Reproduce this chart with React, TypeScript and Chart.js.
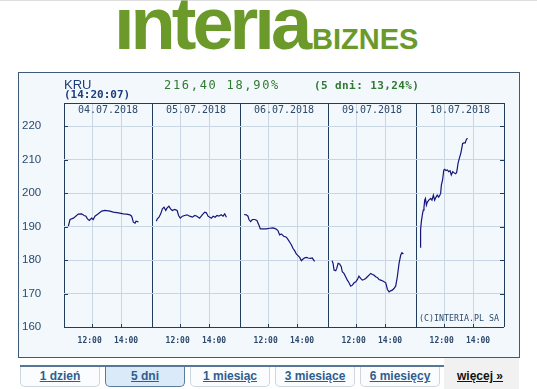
import React, { useEffect, useRef } from "react";
import { Chart, registerables } from "chart.js";

Chart.register(...registerables);

// ---- data ----
const TICKER = "KRU";
const QUOTE_TIME = "(14:20:07)";
const LAST_QUOTE = "216,40 18,90%";
const FIVE_DAY_CHANGE = "(5 dni: 13,24%)";
const COPYRIGHT = "(C)INTERIA.PL SA";
const DATES = ["04.07.2018", "05.07.2018", "06.07.2018", "09.07.2018", "10.07.2018"];
const Y_TICKS = [160, 170, 180, 190, 200, 210, 220];
const GRID_HOURS = [12, 14];
const X_TICK_LABELS = ["12:00", "14:00"];
const TABS = ["1 dzień", "5 dni", "1 miesiąc", "3 miesiące", "6 miesięcy"];
const ACTIVE_TAB = 1;
const MORE_LINK = "więcej »";

const DAY1_TIMES = ["10:21","10:28","10:42","11:02","11:16","11:26","11:34","11:40","11:48","11:57","12:04","12:11","12:25","12:39","12:53","13:13","13:27","13:48","14:09","14:22","14:36","14:43","14:50","14:57","15:01","15:11"];
const DAY1_VALUES = [190.1,192.1,192.5,193.7,193.8,193.3,193.1,192.3,191.8,192.5,192.1,193.1,193.8,194.6,194.8,194.6,194.3,194.1,193.8,193.7,193.5,193.1,191.3,191.0,191.6,191.4];

const DAY2_TIMES = ["10:21","10:25","10:32","10:39","10:46","10:53","11:00","11:05","11:13","11:20","11:27","11:37","11:47","11:53","12:00","12:09","12:18","12:28","12:39","12:50","13:00","13:09","13:20","13:31","13:41","13:48","13:55","14:02","14:09","14:16","14:24","14:32","14:40","14:49","14:57","15:04","15:11"];
const DAY2_VALUES = [191.6,192.3,192.8,193.8,195.3,195.8,194.8,195.5,196.1,195.3,194.8,195.1,194.8,193.3,192.5,193.1,193.3,193.5,193.1,192.8,193.3,193.1,192.5,193.5,194.3,194.1,193.1,192.8,192.5,193.1,192.8,193.3,193.1,193.5,193.1,193.8,192.8];

const DAY3_TIMES = ["10:20","10:29","10:36","10:40","10:47","10:54","11:04","11:13","11:22","11:27","11:38","11:52","12:06","12:20","12:31","12:40","12:47","12:54","13:04","13:15","13:22","13:29","13:36","13:42","13:49","13:56","14:03","14:10","14:17","14:24","14:31","14:38","14:45","14:54","15:02","15:08","15:12"];
const DAY3_VALUES = [193.6,193.5,193.1,192.1,191.5,192.1,192.1,191.8,190.3,189.3,189.3,189.3,189.5,189.6,189.3,188.8,187.5,187.8,187.1,186.8,186.1,185.3,184.5,183.5,182.8,181.8,181.3,180.8,179.8,180.3,180.7,180.8,180.6,180.5,180.6,180.0,179.6];

const DAY4_TIMES = ["10:20","10:24","10:28","10:35","10:39","10:45","10:51","10:58","11:02","11:09","11:16","11:23","11:30","11:37","11:44","11:51","11:58","12:05","12:11","12:18","12:25","12:32","12:39","12:46","12:53","13:00","13:07","13:13","13:20","13:27","13:34","13:41","13:48","13:55","14:02","14:09","14:16","14:22","14:29","14:36","14:43","14:50","14:57","15:04","15:09","15:15"];
const DAY4_VALUES = [179.8,179.0,177.0,176.8,177.5,179.0,178.8,178.0,176.5,176.0,175.0,174.0,173.2,172.2,172.5,173.2,173.5,174.2,175.2,174.5,174.0,174.2,174.5,175.0,175.5,176.0,175.7,175.5,175.0,174.8,174.2,174.0,173.8,173.5,173.2,171.2,170.5,170.8,171.0,171.5,172.2,175.0,179.0,181.5,182.2,181.8];

const DAY5_TIMES = ["10:21","10:22","10:25","10:29","10:33","10:36","10:39","10:42","10:46","10:50","10:56","11:04","11:09","11:15","11:20","11:26","11:31","11:37","11:42","11:45","11:48","11:53","11:58","12:02","12:07","12:13","12:18","12:24","12:29","12:35","12:40","12:46","12:51","12:54","12:57","13:02","13:08","13:11","13:16","13:22","13:27","13:30","13:36"];
const DAY5_VALUES = [183.8,189.0,191.4,193.4,194.9,195.7,197.9,198.4,196.4,197.3,197.9,198.4,197.9,199.4,197.9,198.8,199.4,198.8,199.4,199.9,202.4,203.9,206.9,207.1,206.7,206.9,206.4,206.7,205.4,206.4,206.1,205.8,206.1,207.4,208.9,210.3,211.8,212.8,214.8,215.0,215.0,215.8,216.4];

// ---- axis layout (hours) ----
const OPEN_H = 10.05;
const SPAN_H = 6.07;
const LABEL_OFFSETS = [1.77, 4.28];
const Y_MIN = 160;
const Y_MAX = 226.9;

const DARK = "#213d5e";
const LIGHT = "#c9d6e4";
const LABEL = "#2c4a6c";
const LINE = "#15157a";
const GREEN = "#6b9a2b";
const PANEL_BG = "#f3f8fd";

const toHours = (t: string) => {
  const [h, m] = t.split(":").map(Number);
  return h + m / 60;
};

const DAYS = [
  [DAY1_TIMES, DAY1_VALUES],
  [DAY2_TIMES, DAY2_VALUES],
  [DAY3_TIMES, DAY3_VALUES],
  [DAY4_TIMES, DAY4_VALUES],
  [DAY5_TIMES, DAY5_VALUES],
] as [string[], number[]][];

const isBoundary = (v: number) => Math.abs(v / SPAN_H - Math.round(v / SPAN_H)) < 1e-6;

const overlay = {
  id: "overlay",
  afterDraw(chart: any) {
    const { ctx, chartArea: a, scales } = chart;
    ctx.save();
    ctx.strokeStyle = DARK;
    ctx.lineWidth = 1;
    ctx.beginPath();
    Y_TICKS.forEach((v) => {
      if (v === Y_MIN) return;
      const y = Math.round(scales.y.getPixelForValue(v)) + 0.5;
      ctx.moveTo(a.left, y);
      ctx.lineTo(a.left + 4, y);
      ctx.moveTo(a.right - 4, y);
      ctx.lineTo(a.right, y);
    });
    DATES.forEach((_, d) => {
      GRID_HOURS.forEach((h) => {
        const x = Math.round(scales.x.getPixelForValue(d * SPAN_H + h - OPEN_H)) + 0.5;
        ctx.moveTo(x, a.bottom);
        ctx.lineTo(x, a.bottom - 3);
      });
    });
    ctx.stroke();
    ctx.fillStyle = LABEL;
    ctx.font = '10px "DejaVu Sans Mono"';
    ctx.textAlign = "center";
    ctx.textBaseline = "middle";
    DATES.forEach((d, i) => {
      ctx.fillText(d, scales.x.getPixelForValue(i * SPAN_H + SPAN_H / 2), a.top + 7);
    });
    ctx.font = '8.3px "DejaVu Sans Mono"';
    ctx.textAlign = "right";
    ctx.fillText(COPYRIGHT, a.right - 5, a.bottom - 8);
    ctx.restore();
  },
};

function PriceChart() {
  const ref = useRef<HTMLCanvasElement | null>(null);
  useEffect(() => {
    if (!ref.current) return;
    const gridValues: number[] = [];
    DATES.forEach((_, d) => {
      gridValues.push(d * SPAN_H);
      GRID_HOURS.forEach((h) => gridValues.push(d * SPAN_H + h - OPEN_H));
    });
    gridValues.push(DATES.length * SPAN_H);
    const labelValues: number[] = [];
    DATES.forEach((_, d) => LABEL_OFFSETS.forEach((o) => labelValues.push(d * SPAN_H + o)));

    const chart = new Chart(ref.current, {
      type: "line",
      data: {
        datasets: DAYS.map(([times, values], d) => ({
          data: times.map((t, j) => ({ x: d * SPAN_H + toHours(t) - OPEN_H, y: values[j] })),
          borderColor: LINE,
          borderWidth: 1.2,
          pointRadius: 0,
          fill: false,
          tension: 0,
        })),
      },
      options: {
        animation: false,
        responsive: false,
        events: [],
        layout: { padding: { left: 3, top: 30, right: 15, bottom: 0 } },
        plugins: { legend: { display: false }, tooltip: { enabled: false } },
        scales: {
          x: {
            type: "linear",
            position: "bottom",
            min: 0,
            max: DATES.length * SPAN_H,
            afterBuildTicks: (s: any) => {
              s.ticks = gridValues.map((v) => ({ value: v }));
            },
            afterFit: (s: any) => {
              s.height = 0;
            },
            grid: {
              color: (c: any) => (isBoundary(c.tick.value) ? DARK : LIGHT),
              drawTicks: false,
              lineWidth: 1,
            },
            border: { display: false },
            ticks: { display: false },
          },
          xl: {
            type: "linear",
            position: "bottom",
            min: 0,
            max: DATES.length * SPAN_H,
            afterBuildTicks: (s: any) => {
              s.ticks = labelValues.map((v) => ({ value: v }));
            },
            afterFit: (s: any) => {
              s.height = 30;
            },
            grid: { display: false },
            border: { display: false },
            ticks: {
              autoSkip: false,
              maxRotation: 0,
              padding: 1,
              color: LABEL,
              font: { family: "DejaVu Sans Mono", size: 8, weight: "bold" },
              callback: (_v: any, i: number) => X_TICK_LABELS[i % X_TICK_LABELS.length],
            },
          },
          y: {
            type: "linear",
            min: Y_MIN,
            max: Y_MAX,
            afterBuildTicks: (s: any) => {
              s.ticks = [...Y_TICKS, Y_MAX].map((v) => ({ value: v }));
            },
            afterFit: (s: any) => {
              s.width = 42;
            },
            grid: {
              color: (c: any) =>
                c.tick && (c.tick.value === Y_MIN || c.tick.value === Y_MAX) ? DARK : LIGHT,
              drawTicks: false,
              lineWidth: 1,
            },
            border: { display: false },
            ticks: {
              crossAlign: "far",
              padding: 0,
              color: LABEL,
              font: { family: "Liberation Sans", size: 11.5 },
              callback: (v: any) => (Y_TICKS.includes(v) ? String(v) : ""),
            },
          },
        },
      } as any,
      plugins: [overlay],
    });
    return () => chart.destroy();
  }, []);
  return (
    <canvas
      ref={ref}
      width={500}
      height={284}
      style={{ position: "absolute", left: 19, top: 73, width: 500, height: 284, background: PANEL_BG }}
    />
  );
}

export default function App() {
  const abs = (o: React.CSSProperties): React.CSSProperties => ({
    position: "absolute",
    whiteSpace: "nowrap",
    lineHeight: 1,
    ...o,
  });
  return (
    <div style={{ position: "absolute", left: 0, top: 0, width: 537, height: 389, background: "#fff", overflow: "hidden", fontFamily: "Liberation Sans, Arial, sans-serif" }}>
      <div style={abs({ left: 0, top: 0, width: 537, height: 1, background: "#dedede" })} />
      <div style={abs({ left: 114, top: -13, fontSize: 74, fontWeight: 900, letterSpacing: -4, color: GREEN, fontFamily: "Liberation Sans" })}>ınterıa</div>
      <div style={abs({ left: 312, top: 25, fontSize: 29, fontWeight: 700, color: GREEN, fontFamily: "Liberation Sans" })}>BIZNES</div>

      <div style={abs({ left: 18, top: 72, width: 502, height: 286, boxSizing: "border-box", border: "1px solid #3f5a78", background: PANEL_BG })} />
      <PriceChart />
      <div style={abs({ left: 64, top: 78, fontSize: 13, color: "#1d3e7d", fontFamily: "Liberation Sans" })}>{TICKER}</div>
      <div style={abs({ left: 64, top: 89, fontSize: 11, fontWeight: 700, color: "#1d3e7d", fontFamily: "DejaVu Sans Mono" })}>{QUOTE_TIME}</div>
      <div style={abs({ left: 164, top: 79, fontSize: 12, letterSpacing: 1.7, color: "#2f7a2f", fontFamily: "DejaVu Sans Mono" })}>{LAST_QUOTE}</div>
      <div style={abs({ left: 314, top: 80, fontSize: 11, fontWeight: 700, letterSpacing: 0.4, color: "#2f7a2f", fontFamily: "DejaVu Sans Mono" })}>{FIVE_DAY_CHANGE}</div>

      <div style={abs({ left: 444, top: 358, width: 75, height: 31, background: "#f1f1f1" })} />
      <div style={abs({ left: 20, top: 365, width: 424, height: 2, background: "#56779a" })} />
      {TABS.map((t, i) => {
        const active = i === ACTIVE_TAB;
        return (
          <div
            key={t}
            style={abs({
              left: 20 + i * 85,
              top: 367,
              width: 80,
              height: 20,
              boxSizing: "border-box",
              border: `1px solid ${active ? "#5b7b9b" : "#cdd5de"}`,
              borderTop: "none",
              borderRadius: "0 0 5px 5px",
              background: active ? "#dbeaf8" : "#fbfcfe",
              textAlign: "center",
              lineHeight: "19px",
              fontSize: 12,
              fontWeight: 700,
              color: "#2f5e8e",
              textDecoration: "underline",
            })}
          >
            {t}
          </div>
        );
      })}
      <div style={abs({ left: 457, top: 370, fontSize: 12, fontWeight: 700, color: "#111", textDecoration: "underline" })}>{MORE_LINK}</div>
    </div>
  );
}
